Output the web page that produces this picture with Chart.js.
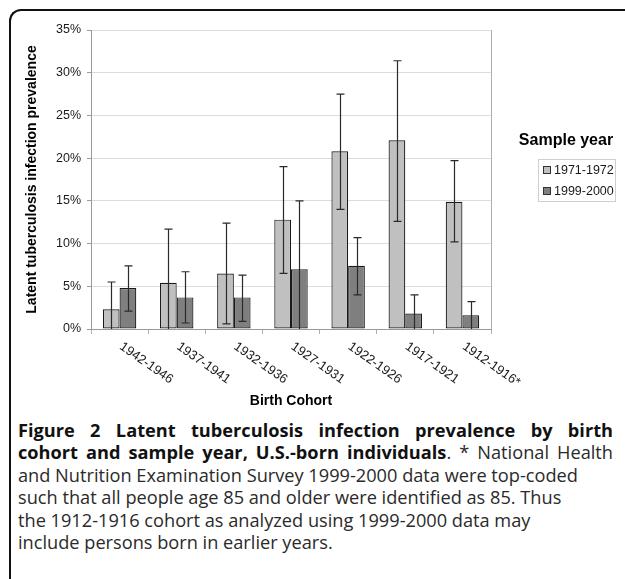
<!DOCTYPE html>
<html>
<head>
<meta charset="utf-8">
<script src="https://cdn.jsdelivr.net/npm/chart.js@4.4.1/dist/chart.umd.min.js"></script>
<style>
    body { margin: 0; background: #fff; width: 625px; height: 579px; overflow: hidden; position: relative; }
    .frame {
        position: absolute; left: 9px; top: 9px; width: 640px; height: 600px;
        border-top: 2px solid #111; border-left: 2px solid #111; border-top-left-radius: 12px;
    }
    #chart { position: absolute; left: 0; top: 0; }
    .caption {
        position: absolute; left: 18px; top: 419px; width: 595px;
        font-family: "Open Sans", sans-serif; font-size: 18.2px; line-height: 22.4px; color: #2a2a2a;
    }
    .caption div { white-space: nowrap; }
    .caption .just { text-align: justify; text-align-last: justify; white-space: normal; }
    .caption b { color: #111; }
</style>
</head>
<body>
<div class="frame"></div>
<canvas id="chart" width="625" height="412"></canvas>
<div class="caption">
    <div class="just"><b>Figure 2 Latent tuberculosis infection prevalence by birth</b></div>
    <div class="just"><b>cohort and sample year, U.S.-born individuals</b>. * National Health</div>
    <div>and Nutrition Examination Survey 1999-2000 data were top-coded</div>
    <div>such that all people age 85 and older were identified as 85. Thus</div>
    <div>the 1912-1916 cohort as analyzed using 1999-2000 data may</div>
    <div>include persons born in earlier years.</div>
</div>
<script>
// DATA
const cohorts = ['1942-1946', '1937-1941', '1932-1936', '1927-1931', '1922-1926', '1917-1921', '1912-1916*']
const yTicks = [0, 5, 10, 15, 20, 25, 30, 35]

const sample1971 = [2.3, 5.4, 6.5, 12.8, 20.8, 22.1, 14.9]
const sample1971Low = [0, 0, 0.6, 6.5, 14.0, 12.6, 10.2]
const sample1971High = [5.5, 11.7, 12.4, 19.0, 27.5, 31.4, 19.7]

const sample1999 = [4.8, 3.7, 3.7, 7.0, 7.4, 1.8, 1.6]
const sample1999Low = [2.1, 0.7, 0.9, 0, 4.0, 0, 0]
const sample1999High = [7.4, 6.7, 6.3, 15.0, 10.7, 4.0, 3.2]

const lightGrey = '#c0c0c0'
const darkGrey = '#7f7f7f'
const fontFamily = '"Liberation Sans", Arial, sans-serif'

// PLUGINS
const plotFrame = {
    id: 'plotFrame',
    beforeDatasetsDraw(chart) {
        const { ctx, chartArea } = chart
        ctx.save()
        ctx.strokeStyle = '#b0b0b0'
        ctx.lineWidth = 1
        ctx.beginPath()
        ctx.moveTo(Math.round(chartArea.right) + 0.5, chartArea.top)
        ctx.lineTo(Math.round(chartArea.right) + 0.5, chartArea.bottom)
        ctx.stroke()
        ctx.restore()
    }
}

const errorBars = {
    id: 'errorBars',
    afterDatasetsDraw(chart) {
        const { ctx } = chart
        const yScale = chart.scales.y
        const bounds = [[sample1971Low, sample1971High], [sample1999Low, sample1999High]]
        ctx.save()
        ctx.strokeStyle = '#2a2a2a'
        ctx.lineWidth = 1.2
        bounds.forEach(([low, high], i) => {
            chart.getDatasetMeta(i).data.forEach((bar, j) => {
                const x = Math.round(bar.x) + 0.5
                const yLow = yScale.getPixelForValue(low[j])
                const yHigh = yScale.getPixelForValue(high[j])
                ctx.beginPath()
                ctx.moveTo(x, yLow)
                ctx.lineTo(x, yHigh)
                ctx.moveTo(x - 4, yHigh)
                ctx.lineTo(x + 4, yHigh)
                if (low[j] > 0) {
                    ctx.moveTo(x - 4, yLow)
                    ctx.lineTo(x + 4, yLow)
                }
                ctx.stroke()
            })
        })
        ctx.restore()
    }
}

const slantedLabels = {
    id: 'slantedLabels',
    afterDraw(chart) {
        const { ctx, chartArea } = chart
        const xScale = chart.scales.x
        ctx.save()
        ctx.fillStyle = '#1a1a1a'
        ctx.font = `13px ${fontFamily}`
        ctx.textAlign = 'left'
        ctx.textBaseline = 'top'
        cohorts.forEach((label, i) => {
            ctx.save()
            ctx.translate(xScale.getPixelForValue(i) + 5, chartArea.bottom + 11)
            ctx.rotate(35 * Math.PI / 180)
            ctx.fillText(label, 0, 0)
            ctx.restore()
        })
        ctx.restore()
    }
}

const sideLegend = {
    id: 'sideLegend',
    afterDraw(chart) {
        const { ctx } = chart
        ctx.save()
        ctx.fillStyle = '#000'
        ctx.font = `bold 16px ${fontFamily}`
        ctx.textAlign = 'center'
        ctx.textBaseline = 'middle'
        ctx.fillText('Sample year', 566, 141)

        ctx.strokeStyle = '#cfcfcf'
        ctx.lineWidth = 1
        ctx.strokeRect(538.5, 159.5, 77, 42)

        ctx.font = `12.5px ${fontFamily}`
        ctx.textAlign = 'left'
        chart.data.datasets.forEach((dataset, i) => {
            const y = 170 + i * 21
            ctx.fillStyle = dataset.backgroundColor
            ctx.fillRect(543, y - 4, 8, 8)
            ctx.strokeStyle = '#333'
            ctx.strokeRect(543.5, y - 3.5, 7, 7)
            ctx.fillStyle = '#1a1a1a'
            ctx.fillText(dataset.label, 554, y + 0.5)
        })
        ctx.restore()
    }
}

// BARCHART
const chartCtx = document.getElementById('chart')

new Chart(chartCtx, {
    type: 'bar',
    data: {
        labels: cohorts,
        datasets: [
            {
                label: '1971-1972',
                data: sample1971,
                backgroundColor: lightGrey,
                borderColor: '#1a1a1a',
                borderWidth: 1.2,
                borderSkipped: false,
            },
            {
                label: '1999-2000',
                data: sample1999,
                backgroundColor: darkGrey,
                borderColor: '#1a1a1a',
                borderWidth: 1.2,
                borderSkipped: false,
            }
        ]
    },
    options: {
        responsive: false,
        animation: false,
        devicePixelRatio: 1,
        categoryPercentage: 0.585,
        barPercentage: 1,
        layout: {
            padding: { left: 0, top: 30, right: 134, bottom: 0 }
        },
        plugins: {
            legend: { display: false },
            tooltip: { enabled: false },
        },
        scales: {
            x: {
                afterFit: (scale) => { scale.height = 83 },
                grid: {
                    offset: true,
                    drawOnChartArea: false,
                    drawTicks: true,
                    tickLength: 5,
                    color: '#b0b0b0',
                },
                border: { color: '#9a9a9a' },
                ticks: { display: false },
                title: {
                    display: true,
                    text: 'Birth Cohort',
                    color: '#000',
                    font: { family: fontFamily, size: 14, weight: 'bold' },
                    padding: { top: 0, bottom: 2 },
                }
            },
            y: {
                min: 0,
                max: 35,
                afterFit: (scale) => { scale.width = 91 },
                afterBuildTicks: (scale) => { scale.ticks = yTicks.map(v => ({ value: v })) },
                grid: {
                    color: '#dcdcdc',
                    tickColor: '#9a9a9a',
                    tickLength: 4,
                },
                border: { color: '#9a9a9a' },
                ticks: {
                    color: '#1a1a1a',
                    padding: 6,
                    font: { family: fontFamily, size: 12.5 },
                    callback: (value) => value + '%',
                },
                title: {
                    display: true,
                    text: 'Latent tuberculosis infection prevalence',
                    color: '#000',
                    font: { family: fontFamily, size: 14, weight: 'bold' },
                    padding: { top: 24, bottom: 0 },
                }
            }
        }
    },
    plugins: [plotFrame, errorBars, slantedLabels, sideLegend]
})
</script>
</body>
</html>
